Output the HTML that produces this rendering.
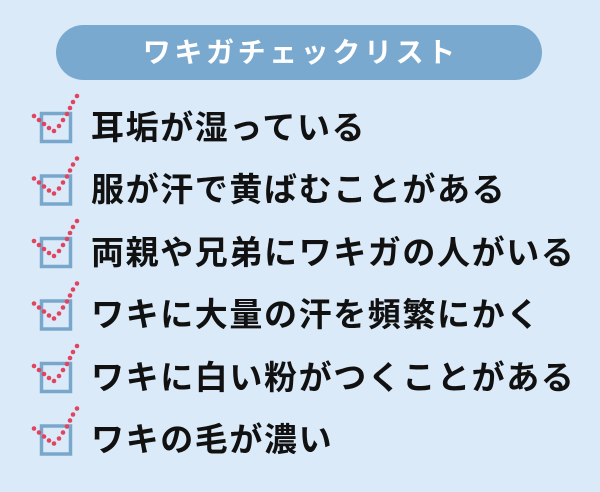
<!DOCTYPE html>
<html><head><meta charset="utf-8"><style>
html,body{margin:0;padding:0}
body{width:600px;height:492px;background:#dbeaf8;position:relative;overflow:hidden;font-family:"Liberation Sans","Noto Sans CJK JP",sans-serif}
.pill{position:absolute;left:56px;top:25px;width:486px;height:55px;border-radius:28px;background:#79a9cf;color:#fff;font-size:28px;font-weight:bold;letter-spacing:3.6px;text-align:center;line-height:55px;text-indent:3.6px}
.row{position:absolute;left:91px;font-size:33px;font-weight:bold;color:#111;letter-spacing:1.6px;line-height:36px;white-space:nowrap}
svg{position:absolute;left:0;top:0}
</style></head><body>
<div class="pill">ワキガチェックリスト</div>
<svg width="600" height="492">
<defs>
<g id="cb">
<rect x="41.5" y="113.5" width="29" height="28" fill="none" stroke="#79a7cc" stroke-width="3.5"/>
<g fill="#e0445f">
<circle cx="34" cy="116" r="2.3"/><circle cx="39" cy="120" r="2.3"/><circle cx="44" cy="124" r="2.3"/><circle cx="49" cy="128" r="2.3"/><circle cx="54" cy="131" r="2.3"/>
<circle cx="59" cy="126" r="2.3"/><circle cx="63" cy="120" r="2.3"/><circle cx="67" cy="114" r="2.3"/><circle cx="70" cy="108" r="2.3"/><circle cx="73" cy="102" r="2.3"/><circle cx="77" cy="96" r="2.3"/>
</g></g></defs>
<use href="#cb" y="0"/><use href="#cb" y="62.5"/><use href="#cb" y="125"/><use href="#cb" y="187.5"/><use href="#cb" y="250"/><use href="#cb" y="312.5"/>
</svg>
<div class="row" style="top:110px">耳垢が湿っている</div>
<div class="row" style="top:172px">服が汗で黄ばむことがある</div>
<div class="row" style="top:235px">両親や兄弟にワキガの人がいる</div>
<div class="row" style="top:297px">ワキに大量の汗を頻繁にかく</div>
<div class="row" style="top:360px">ワキに白い粉がつくことがある</div>
<div class="row" style="top:422px">ワキの毛が濃い</div>
</body></html>
